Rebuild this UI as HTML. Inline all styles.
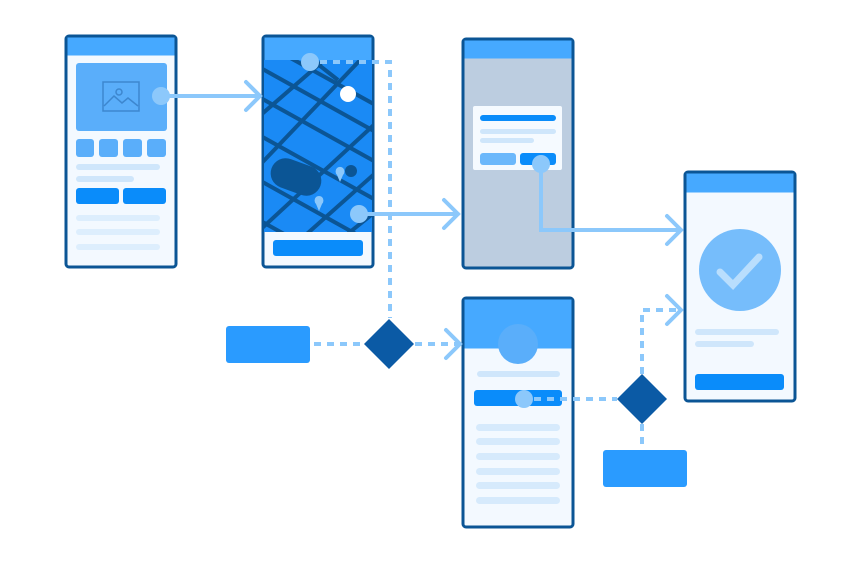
<!DOCTYPE html>
<html><head><style>html,body{margin:0;padding:0;background:#fff}svg{display:block}</style></head>
<body>
<svg width="860" height="564" viewBox="0 0 860 564" xmlns="http://www.w3.org/2000/svg">
<defs><clipPath id="map"><rect x="264" y="60" width="108" height="172"/></clipPath></defs>
<!-- phone 1 -->
<rect x="66" y="36" width="110" height="231" rx="3" fill="#f3f9ff" stroke="#0b5595" stroke-width="3"/>
<rect x="67.5" y="37.5" width="107" height="18" fill="#46a9ff"/>
<rect x="76" y="63" width="91" height="68" rx="3" fill="#5aaefa"/>
<g fill="none" stroke="#3d87cf" stroke-width="1.5"><rect x="103" y="82" width="36" height="29"/><path d="M104 106l10-10 8 7 6-5 10 8"/><circle cx="119" cy="92" r="3"/></g>
<g fill="#5aaefa"><rect x="76" y="139" width="18" height="18" rx="3"/><rect x="99" y="139" width="19" height="18" rx="3"/><rect x="123" y="139" width="19" height="18" rx="3"/><rect x="147" y="139" width="19" height="18" rx="3"/></g>
<rect x="76" y="164" width="84" height="6" rx="3" fill="#cfe6fb"/><rect x="76" y="176" width="58" height="6" rx="3" fill="#cfe6fb"/>
<rect x="76" y="188" width="43" height="16" rx="3" fill="#0a8cfa"/><rect x="123" y="188" width="43" height="16" rx="3" fill="#0a8cfa"/>
<rect x="76" y="215" width="84" height="6" rx="3" fill="#ddeefd"/><rect x="76" y="229" width="84" height="6" rx="3" fill="#ddeefd"/><rect x="76" y="244" width="84" height="6" rx="3" fill="#ddeefd"/>
<!-- phone 2 -->
<rect x="263" y="36" width="110" height="231" rx="3" fill="#f3f9ff" stroke="#0b5595" stroke-width="3"/>
<rect x="264.5" y="37.5" width="107" height="23" fill="#46a9ff"/>
<rect x="264" y="60" width="108" height="172" fill="#1a8af5"/>
<g clip-path="url(#map)" stroke="#0b5595" stroke-width="4" fill="none">
<path d="M250 62L390 140M250 92L390 170M250 130L390 208M250 175L390 253M250 215L390 293M285 55L390 113"/>
<path d="M255 120L330 55M255 170L365 55M260 230L390 110M300 240L390 160M340 240L390 200M310 58L338 80"/>
</g>
<rect x="270" y="162" width="52" height="30" rx="15" transform="rotate(20 296 177)" fill="#0b5595"/>
<circle cx="351" cy="171" r="6" fill="#0b5595"/>
<path d="M337 168a5 5 0 0 1 6 0 5 5 0 0 1 0 7l-3 7-3-7a5 5 0 0 1 0-7z" fill="#8cc8fb"/>
<path d="M316 197a5 5 0 0 1 6 0 5 5 0 0 1 0 7l-3 7-3-7a5 5 0 0 1 0-7z" fill="#8cc8fb"/>
<circle cx="348" cy="94" r="8" fill="#fff"/>
<rect x="273" y="240" width="90" height="16" rx="3" fill="#0a8cfa"/>
<!-- phone 3 -->
<rect x="463" y="39" width="110" height="229" rx="3" fill="#bccde0" stroke="#0b5595" stroke-width="3"/>
<rect x="464.5" y="40.5" width="107" height="18" fill="#46a9ff"/>
<rect x="473" y="106" width="89" height="64" rx="2" fill="#f5faff"/>
<rect x="480" y="115" width="76" height="6" rx="3" fill="#0a8cfa"/>
<rect x="480" y="129" width="76" height="5" rx="2.5" fill="#cfe6fb"/><rect x="480" y="138" width="54" height="5" rx="2.5" fill="#cfe6fb"/>
<rect x="480" y="153" width="36" height="12" rx="3" fill="#6cb8fb"/><rect x="520" y="153" width="36" height="12" rx="3" fill="#0a8cfa"/>
<!-- phone 4 -->
<rect x="685" y="172" width="110" height="229" rx="3" fill="#f3f9ff" stroke="#0b5595" stroke-width="3"/>
<rect x="686.5" y="173.5" width="107" height="19" fill="#46a9ff"/>
<circle cx="740" cy="270" r="41" fill="#76bdfb"/>
<path d="M720 272l13 13 26-28" stroke="#b9defd" stroke-width="7" fill="none" stroke-linecap="round"/>
<rect x="695" y="329" width="84" height="6" rx="3" fill="#cfe6fb"/><rect x="695" y="341" width="59" height="6" rx="3" fill="#cfe6fb"/>
<rect x="695" y="374" width="89" height="16" rx="3" fill="#0a8cfa"/>
<!-- phone 5 -->
<rect x="463" y="298" width="110" height="229" rx="3" fill="#f3f9ff" stroke="#0b5595" stroke-width="3"/>
<rect x="464.5" y="299.5" width="107" height="49" fill="#46a9ff"/>
<circle cx="518" cy="344" r="20" fill="#5aaefa"/>
<rect x="477" y="371" width="83" height="6" rx="3" fill="#cfe6fb"/>
<rect x="474" y="390" width="88" height="16" rx="3" fill="#0a8cfa"/>
<g fill="#d6eafc"><rect x="476" y="424" width="84" height="7" rx="3.5"/><rect x="476" y="438" width="84" height="7" rx="3.5"/><rect x="476" y="453" width="84" height="7" rx="3.5"/><rect x="476" y="468" width="84" height="7" rx="3.5"/><rect x="476" y="482" width="84" height="7" rx="3.5"/><rect x="476" y="497" width="84" height="7" rx="3.5"/></g>
<!-- connectors -->
<g stroke-linecap="round" fill="none">
<path d="M160 96H260M246 82l14 14-14 14" stroke="#8cc8fb" stroke-width="4"/>
<path d="M359 214H458M444 200l14 14-14 14" stroke="#8cc8fb" stroke-width="4"/>
<path d="M541 164V230H681M667 216l14 14-14 14" stroke="#8cc8fb" stroke-width="4"/>
<path d="M446 330l14 14-14 14M667 296l14 14-14 14" stroke="#8cc8fb" stroke-width="4"/>
</g>
<g stroke="#8cc8fb" stroke-width="4" stroke-dasharray="7 6" fill="none">
<path d="M320 62H390V318"/>
<path d="M314 344H365M415 344H458"/>
<path d="M534 399H617M642 424V448M642 374V310H680"/>
</g>
<circle cx="161" cy="96" r="9" fill="#8cc8fb"/>
<circle cx="310" cy="62" r="9" fill="#8cc8fb"/>
<circle cx="359" cy="214" r="9" fill="#8cc8fb"/>
<circle cx="541" cy="164" r="9" fill="#8cc8fb"/>
<circle cx="524" cy="399" r="9" fill="#8cc8fb"/>
<!-- decision / boxes -->
<rect x="226" y="326" width="84" height="37" rx="3" fill="#2a9bff"/>
<rect x="603" y="450" width="84" height="37" rx="3" fill="#2a9bff"/>
<path d="M389 319L414 344 389 369 364 344Z" fill="#0b5aa5"/>
<path d="M642 374L667 399 642 424 617 399Z" fill="#0b5aa5"/>
</svg>
</body></html>
